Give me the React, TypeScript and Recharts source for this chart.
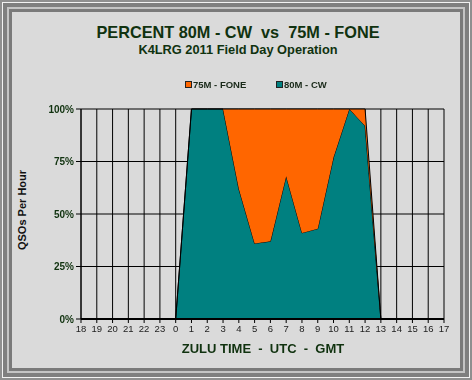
import React from 'react';
import { AreaChart, Area, XAxis, YAxis, CartesianGrid, Legend } from 'recharts';

const hours = ['18','19','20','21','22','23','0','1','2','3','4','5','6','7','8','9','10','11','12','13','14','15','16','17'];
const cwPct: (number | null)[] = [null,null,null,null,null,null,0,100,100,100,62,36,37,68,41,43,77,100,92,0,null,null,null,null];
const fonePct: (number | null)[] = [null,null,null,null,null,null,0,0,0,0,38,64,63,32,59,57,23,0,8,0,null,null,null,null];
const yTicks = [0, 25, 50, 75, 100];

const data = hours.map((h, i) => ({ hour: h, cw: cwPct[i], fone: fonePct[i] }));

const FONT = '"Liberation Sans", Arial, sans-serif';
const TITLE_COLOR = '#10320f';

const LegendContent = () => (
  <div style={{ position: 'relative', width: 472, height: 14, fontFamily: FONT, fontSize: 9.5, fontWeight: 'bold', color: '#1a2a1a' }}>
    <div style={{ position: 'absolute', left: 185, top: 2, display: 'flex', alignItems: 'center' }}>
      <span style={{ display: 'inline-block', width: 5, height: 5, background: '#FF6600', border: '1px solid #222', marginRight: 1 }} />
      <span>75M - FONE</span>
    </div>
    <div style={{ position: 'absolute', left: 276, top: 2, display: 'flex', alignItems: 'center' }}>
      <span style={{ display: 'inline-block', width: 5, height: 5, background: '#008080', border: '1px solid #222', marginRight: 1 }} />
      <span>80M - CW</span>
    </div>
  </div>
);

export default function App() {
  return (
    <div style={{ position: 'fixed', left: 0, top: 0, width: 472, height: 380 }}>
      <div style={{ position: 'absolute', inset: 0, boxSizing: 'border-box', border: '2px solid #8f8f8f', background: '#8f8f8f' }}>
        <div style={{ position: 'absolute', inset: 0, border: '1px solid #f2f2f2' }}>
          <div style={{ position: 'absolute', inset: 0, border: '4px solid #7f7f7f' }}>
            <div style={{ position: 'absolute', inset: 0, border: '2px solid #c4c4c4' }}>
              <div style={{ position: 'absolute', inset: 0, border: '3px solid #7a7a7a', background: '#dadada' }} />
            </div>
          </div>
        </div>
      </div>
      <div style={{ position: 'absolute', left: 0, top: 23, width: 476, textAlign: 'center', fontFamily: FONT, fontWeight: 'bold', fontSize: 16.3, color: TITLE_COLOR, whiteSpace: 'pre' }}>
        {'PERCENT 80M - CW  vs  75M - FONE'}
      </div>
      <div style={{ position: 'absolute', left: 0, top: 42, width: 476, textAlign: 'center', fontFamily: FONT, fontWeight: 'bold', fontSize: 12.8, color: TITLE_COLOR }}>
        K4LRG 2011 Field Day Operation
      </div>
      <div style={{ position: 'absolute', left: 0, top: 341, width: 526, textAlign: 'center', fontFamily: FONT, fontWeight: 'bold', fontSize: 13, color: TITLE_COLOR, whiteSpace: 'pre' }}>
        {'ZULU TIME  -  UTC  -  GMT'}
      </div>
      <div style={{ position: 'absolute', left: 22, top: 210, transform: 'translate(-50%, -50%) rotate(-90deg)', fontFamily: FONT, fontWeight: 'bold', fontSize: 11, color: '#111', whiteSpace: 'nowrap' }}>
        QSOs Per Hour
      </div>
      <div style={{ position: 'absolute', left: 0, top: 0 }}>
        <AreaChart width={472} height={380} data={data} margin={{ top: 109, right: 28, bottom: 41, left: 41 }}>
          <CartesianGrid stroke="#000" strokeWidth={1} />
          <XAxis
            dataKey="hour"
            interval={0}
            height={20}
            tick={{ fontSize: 9.5, fill: '#222', fontFamily: FONT }}
            tickLine={{ stroke: '#000' }}
            tickSize={4}
            axisLine={{ stroke: '#000', strokeWidth: 2 }}
          />
          <YAxis
            domain={[0, 100]}
            ticks={yTicks}
            width={40}
            interval={0}
            tickFormatter={(v: number) => `${v}%`}
            tick={{ fontSize: 10, fill: TITLE_COLOR, fontWeight: 'bold', fontFamily: FONT }}
            tickLine={{ stroke: '#000' }}
            tickSize={5}
            axisLine={{ stroke: '#000' }}
          />
          <Legend layout="horizontal" verticalAlign="middle" align="center" wrapperStyle={{ top: 77, left: 0, width: 472 }} content={<LegendContent />} />
          <Area type="linear" dataKey="cw" name="80M - CW" stackId="a" fill="#008080" fillOpacity={1} stroke="#000" strokeWidth={1} isAnimationActive={false} />
          <Area type="linear" dataKey="fone" name="75M - FONE" stackId="a" fill="#FF6600" fillOpacity={1} stroke="#000" strokeWidth={1} isAnimationActive={false} />
        </AreaChart>
      </div>
    </div>
  );
}
